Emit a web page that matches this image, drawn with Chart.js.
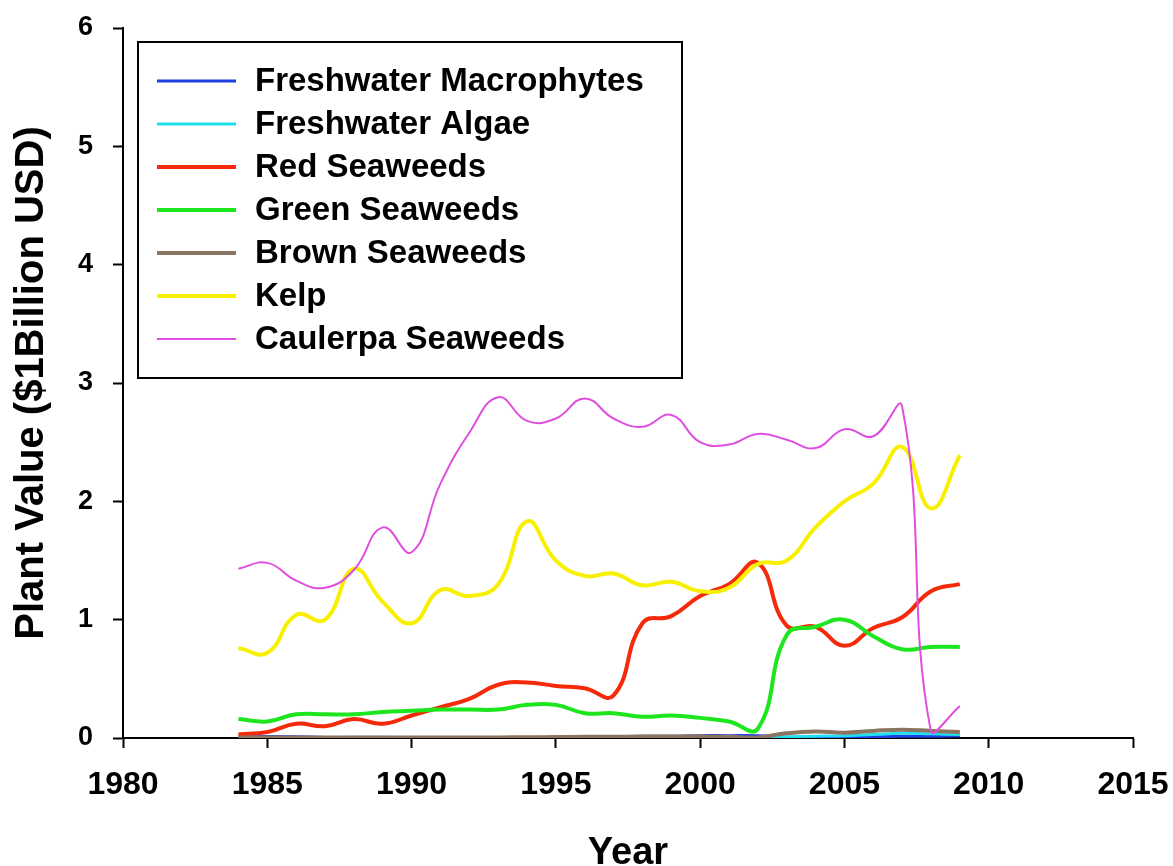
<!DOCTYPE html>
<html>
<head>
<meta charset="utf-8">
<script src="https://cdn.jsdelivr.net/npm/chart.js@4/dist/chart.umd.min.js"></script>
<style>
  html, body { margin: 0; padding: 0; background: #fff; }
  canvas { display: block; }
</style>
</head>
<body>
<canvas id="chart" width="1173" height="866"></canvas>
<script>
// ── DATA ──
const YEARS = [1984,1985,1986,1987,1988,1989,1990,1991,1992,1993,1994,1995,1996,1997,1998,1999,2000,2001,2002,2003,2004,2005,2006,2007,2008,2009];

const MACROPHYTES = [0.01,0.012,0.01,0.005,0.005,0.005,0.005,0.005,0.005,0.005,0.005,0.005,0.008,0.01,0.015,0.015,0.02,0.02,0.02,0.005,0.005,0.008,0.01,0.015,0.015,0.02];
const ALGAE       = [0.003,0.003,0.003,0.003,0.006,0.006,0.003,0.003,0.003,0.003,0.003,0.003,0.003,0.003,0.003,0.003,0.003,0.003,0.003,0.01,0.015,0.02,0.03,0.04,0.035,0.03];
const RED         = [0.03,0.05,0.12,0.10,0.16,0.12,0.19,0.26,0.33,0.45,0.47,0.44,0.42,0.36,0.97,1.03,1.20,1.30,1.48,0.95,0.94,0.78,0.93,1.02,1.24,1.30];
const GREEN       = [0.16,0.14,0.20,0.20,0.20,0.22,0.23,0.24,0.24,0.24,0.28,0.28,0.21,0.21,0.18,0.19,0.17,0.14,0.08,0.87,0.94,1.00,0.86,0.75,0.77,0.77];
const BROWN       = [0.005,0.005,0.005,0.005,0.005,0.005,0.005,0.005,0.005,0.005,0.006,0.008,0.01,0.01,0.012,0.012,0.012,0.01,0.005,0.04,0.055,0.045,0.06,0.07,0.06,0.05];
const KELP        = [0.76,0.72,1.04,1.00,1.43,1.15,0.97,1.25,1.20,1.30,1.83,1.50,1.37,1.39,1.29,1.32,1.24,1.27,1.47,1.50,1.78,2.00,2.15,2.46,1.94,2.39];
const CAULERPA    = [1.43,1.48,1.33,1.27,1.42,1.78,1.57,2.15,2.58,2.88,2.68,2.70,2.87,2.70,2.63,2.73,2.50,2.48,2.57,2.52,2.45,2.61,2.55,2.80,0.05,0.27];

const X_TICKS = [1980,1985,1990,1995,2000,2005,2010,2015];
const Y_TICKS = [0,1,2,3,4,5,6];

const FONT = "'Liberation Sans', Arial, sans-serif";

function pts(vals) { return YEARS.map((yr, i) => ({ x: yr, y: vals[i] })); }

// draw order: later series on top (lower order = drawn last)
const SERIES = [
  { label: 'Freshwater Macrophytes', data: MACROPHYTES, color: '#1f3fe0', width: 3, order: 7 },
  { label: 'Freshwater Algae',       data: ALGAE,       color: '#20e0f0', width: 3, order: 6 },
  { label: 'Red Seaweeds',           data: RED,         color: '#f52a0a', width: 4, order: 5 },
  { label: 'Green Seaweeds',         data: GREEN,       color: '#1ee61e', width: 4, order: 4 },
  { label: 'Brown Seaweeds',         data: BROWN,       color: '#8c7560', width: 4, order: 3 },
  { label: 'Kelp',                   data: KELP,        color: '#f8f000', width: 4, order: 2 },
  { label: 'Caulerpa Seaweeds',      data: CAULERPA,    color: '#e04ee0', width: 2, order: 1 }
];

// ── LEGEND BOX (inside plot, top-left) ──
const boxLegend = {
  id: 'boxLegend',
  afterDatasetsDraw(chart) {
    const ctx = chart.ctx;
    const area = chart.chartArea;
    const x0 = area.left + 15, y0 = area.top + 14, w = 544, h = 336;
    ctx.save();
    ctx.fillStyle = '#fff';
    ctx.fillRect(x0, y0, w, h);
    ctx.strokeStyle = '#000';
    ctx.lineWidth = 2;
    ctx.strokeRect(x0, y0, w, h);
    ctx.font = 'bold 33px ' + FONT;
    ctx.textBaseline = 'middle';
    ctx.fillStyle = '#000';
    chart.data.datasets.forEach((ds, i) => {
      const cy = y0 + 39 + i * 43;
      ctx.strokeStyle = ds.borderColor;
      ctx.lineWidth = ds.borderWidth;
      ctx.beginPath();
      ctx.moveTo(x0 + 19, cy);
      ctx.lineTo(x0 + 98, cy);
      ctx.stroke();
      ctx.fillText(ds.label, x0 + 117, cy + 1);
    });
    ctx.restore();
  }
};

// kill label overhang so layout padding places the plot area exactly
function noOverhang(sc) { sc.paddingLeft = 0; sc.paddingRight = 0; sc.paddingTop = 0; sc.paddingBottom = 0; }

new Chart(document.getElementById('chart'), {
  type: 'line',
  data: {
    datasets: SERIES.map(s => ({
      label: s.label, data: pts(s.data), order: s.order,
      borderColor: s.color, backgroundColor: s.color, borderWidth: s.width,
      pointRadius: 0, tension: 0.45, fill: false
    }))
  },
  options: {
    responsive: false, animation: false, devicePixelRatio: 1,
    layout: { padding: { left: 0, right: 40, top: 28, bottom: 0 } },
    plugins: { legend: { display: false }, tooltip: { enabled: false } },
    scales: {
      x: {
        type: 'linear', min: 1980, max: 2015,
        afterBuildTicks: sc => { sc.ticks = X_TICKS.map(v => ({ value: v })); },
        afterFit: sc => { sc.height = 128; noOverhang(sc); },
        border: { display: true, color: '#000', width: 2 },
        grid: { drawOnChartArea: false, drawTicks: true, tickLength: 10, tickColor: '#000', tickWidth: 2 },
        ticks: { color: '#000', padding: 18, maxRotation: 0, autoSkip: false,
                 callback: v => String(v),
                 font: { family: FONT, size: 32, weight: 'bold' } },
        title: { display: true, text: 'Year', color: '#000', padding: 0,
                 font: { family: FONT, size: 38, weight: 'bold', lineHeight: 0.65 } }
      },
      y: {
        min: 0, max: 6,
        afterBuildTicks: sc => { sc.ticks = Y_TICKS.map(v => ({ value: v })); },
        afterFit: sc => { sc.width = 123; noOverhang(sc); },
        border: { display: true, color: '#000', width: 2 },
        grid: { drawOnChartArea: false, drawTicks: true, tickLength: 10, tickColor: '#000', tickWidth: 2 },
        ticks: { color: '#000', padding: 20, callback: v => String(v),
                 font: { family: FONT, size: 27, weight: 'bold' } },
        title: { display: true, text: 'Plant Value ($1Billion USD)', color: '#000', padding: { top: 8, bottom: 0 },
                 font: { family: FONT, size: 40, weight: 'bold' } }
      }
    }
  },
  plugins: [boxLegend]
});
</script>
</body>
</html>
